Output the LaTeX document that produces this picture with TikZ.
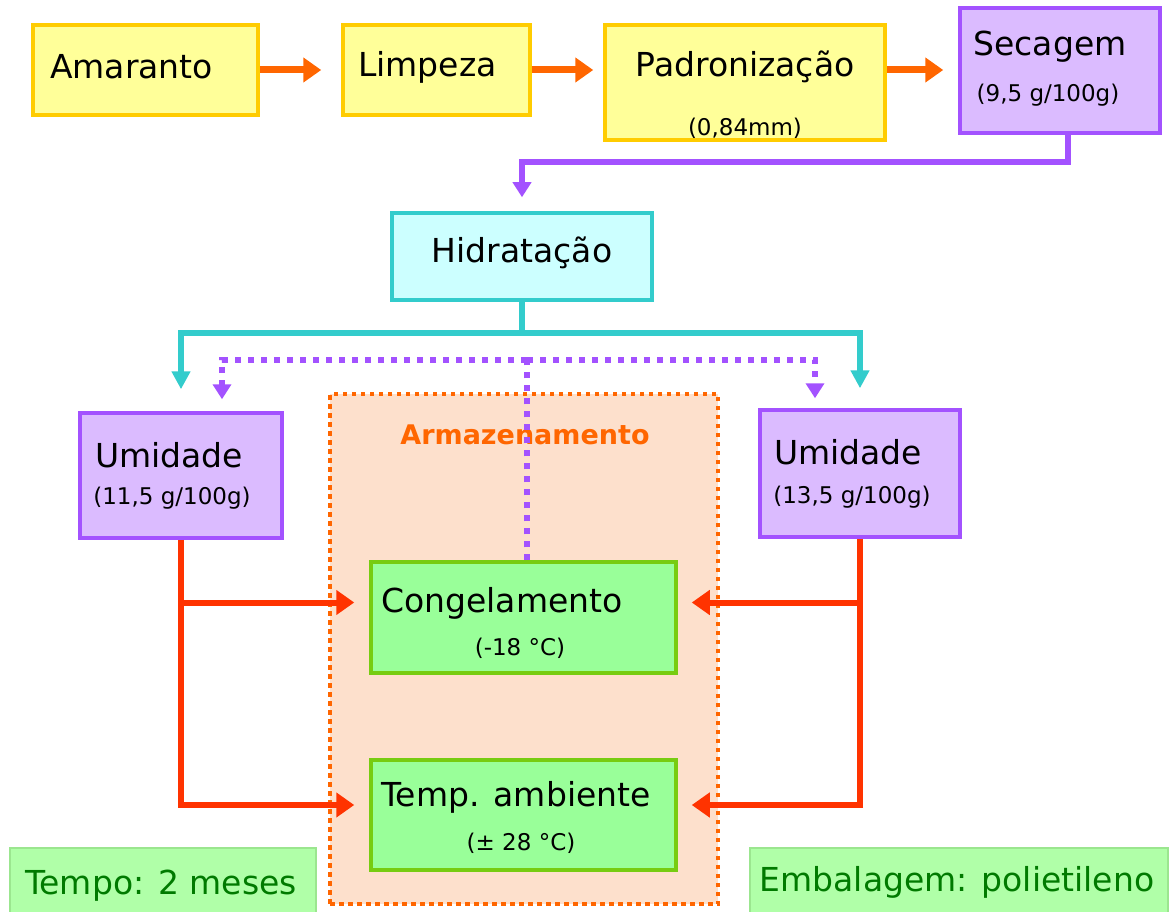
\documentclass[tikz,border=0pt]{standalone}
\usepackage{fontspec}
\setmainfont{DejaVu Sans}
\usetikzlibrary{arrows.meta,calc}
\definecolor{yfill}{HTML}{FFFF99}
\definecolor{ydraw}{HTML}{FFCC00}
\definecolor{orarrow}{HTML}{FF6600}
\definecolor{pfill}{HTML}{DBBBFF}
\definecolor{pdraw}{HTML}{A352FF}
\definecolor{cfill}{HTML}{CCFFFF}
\definecolor{cdraw}{HTML}{33CCCC}
\definecolor{afill}{HTML}{FDE0CC}
\definecolor{gfill}{HTML}{99FF99}
\definecolor{gdraw}{HTML}{77CC11}
\definecolor{redl}{HTML}{FF3300}
\definecolor{lgfill}{HTML}{B0FFA8}
\definecolor{lgdraw}{HTML}{9BE68F}
\definecolor{dgreen}{HTML}{007A00}
\tikzset{
  boxbase/.style={line width=3.5pt, inner sep=0pt},
  ybox/.style={boxbase, draw=ydraw, fill=yfill},
  pbox/.style={boxbase, draw=pdraw, fill=pfill},
  cbox/.style={boxbase, draw=cdraw, fill=cfill},
  gbox/.style={boxbase, draw=gdraw, fill=gfill},
  lgbox/.style={line width=1.5pt, inner sep=0pt, draw=lgdraw, fill=lgfill},
  armbox/.style={line width=4.5pt, inner sep=0pt, draw=orarrow, fill=afill, dash pattern=on 4.5pt off 4.5pt},
  big/.style={font=\fontsize{33}{36}\selectfont, inner sep=0pt},
  small/.style={font=\fontsize{23}{25}\selectfont, inner sep=0pt},
  oarrow/.style={draw=orarrow, line width=7pt, -{Triangle[length=18pt,width=24pt]}},
  parrow/.style={draw=pdraw, line width=6pt, -{Triangle[length=15pt,width=18pt]}},
  carrow/.style={draw=cdraw, line width=5.5pt, -{Triangle[length=18pt,width=18pt]}},
  pdot/.style={draw=pdraw, line width=6pt, dash pattern=on 6pt off 7pt},
  pdotarrow/.style={pdot, -{Triangle[length=15pt,width=18pt]}},
  rarrow/.style={draw=redl, line width=6pt, -{Triangle[length=18pt,width=24pt]}},
  rline/.style={draw=redl, line width=6pt},
}
\begin{document}
\begin{tikzpicture}[x=1pt,y=-1pt]
\useasboundingbox (0,0) rectangle (1170,912);
\fill[white] (0,0) rectangle (1170,912);

% storage area
\node[armbox, minimum width=388pt, minimum height=510pt] (ar) at (524,649) {};
\node[font=\fontsize{27}{30}\selectfont\bfseries, text=orarrow, inner sep=0pt] (art) at (525,435) {Armazenamento};

% top row
\node[ybox, minimum width=225pt, minimum height=90pt] (am) at (145.5,70) {};
\node[big, anchor=west] (amt) at (50,67) {Amaranto};
\node[ybox, minimum width=187pt, minimum height=90pt] (li) at (436.5,70) {};
\node[big, anchor=west] (lit) at (358,67) {Limpeza};
\node[ybox, minimum width=280pt, minimum height=115pt] (pa) at (745,82.5) {};
\node[big] (pat) at (745,67) {Padronização};
\node[small] (pas) at (745,128) {(0,84mm)};
\node[pbox, minimum width=200pt, minimum height=125pt] (se) at (1060,70.5) {};
\node[big] (set) at (1050,47) {Secagem};
\node[small] (ses) at (1048,95) {(9,5 g/100g)};

\draw[oarrow] (am.east) -- ([xshift=-20pt]li.west);
\draw[oarrow] (li.east) -- ([xshift=-10pt]li.east -| pa.west);
\draw[oarrow] (li.east -| pa.east) -- ([xshift=-15pt]li.east -| se.west);

% hydration
\node[cbox, minimum width=260pt, minimum height=87pt] (hi) at (522,256.5) {};
\node[big] (hit) at (522,253) {Hidratação};
\draw[parrow] ([xshift=8pt]se.south) -- ++(0,27) -| ([yshift=14pt]hi.north);

% humidity boxes
\node[pbox, minimum width=202pt, minimum height=125pt] (ul) at (181,475.5) {};
\node[big] (ult) at (169,455) {Umidade};
\node[small] (uls) at (172,498) {(11,5 g/100g)};
\node[pbox, minimum width=200pt, minimum height=127pt] (ur) at (860,473.5) {};
\node[big] (urt) at (848,452) {Umidade};
\node[small] (urs) at (852,497) {(13,5 g/100g)};

\coordinate (hj) at (522,333);
\draw[line width=5.5pt, draw=cdraw] (hi.south) -- (hj);
\draw[carrow] (hj) -| ([yshift=22pt]ul.north);
\draw[carrow] (hj) -| ([yshift=20pt]ur.north);

% storage boxes
\node[gbox, minimum width=305pt, minimum height=111pt] (co) at (523.5,617.5) {};
\node[big] (cot) at (502,603) {Congelamento};
\node[small] (cos) at (520,648) {(-18 °C)};
\node[gbox, minimum width=305pt, minimum height=110pt] (ta) at (523.5,815) {};
\node[big] (tat) at (516,797) {Temp. ambiente};
\node[small] (tas) at (521,843) {(± 28 °C)};

% dotted purple
\coordinate (pd) at (527,360);
\draw[pdot] ([xshift=3.5pt]co.north) -- (pd);
\draw[pdotarrow] (pd) -| ([xshift=41pt,yshift=12pt]ul.north);
\draw[pdotarrow] (pd) -| ([xshift=-45pt,yshift=10pt]ur.north);

% red connectors
\draw[rline] (ul.south) -- ([yshift=10pt]ta.west -| ul.south) coordinate (rl);
\draw[rarrow] ([xshift=-3pt]rl) -- ([yshift=10pt,xshift=-15pt]ta.west);
\draw[rarrow] ([yshift=15pt]co.west -| ul.south) -- ([yshift=15pt,xshift=-15pt]co.west);
\draw[rline] (ur.south) -- ([yshift=10pt]ta.east -| ur.south) coordinate (rr);
\draw[rarrow] ([xshift=3pt]rr) -- ([yshift=10pt,xshift=14pt]ta.east);
\draw[rarrow] ([yshift=15pt]co.east -| ur.south) -- ([yshift=15pt,xshift=14pt]co.east);

% notes
\node[lgbox, minimum width=306pt, minimum height=70pt] (tp) at (163,883) {};
\node[big, text=dgreen] (tpt) at (161,886) {Tempo: 2 meses};
\node[lgbox, minimum width=418pt, minimum height=70pt] (em) at (959,883) {};
\node[big, text=dgreen] (emt) at (957,882) {Embalagem: polietileno};
\end{tikzpicture}
\end{document}
